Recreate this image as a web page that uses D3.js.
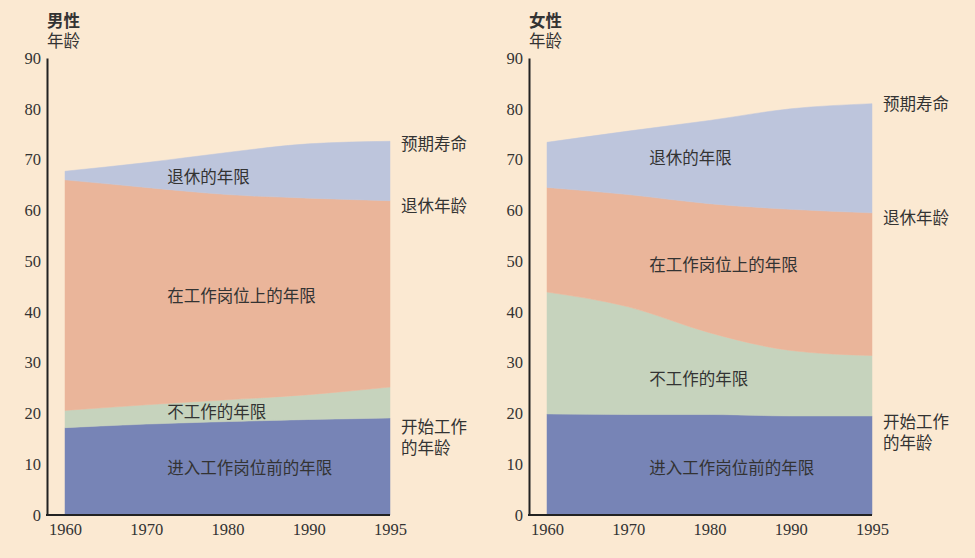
<!DOCTYPE html>
<html>
<head>
<meta charset="utf-8">
<script src="https://cdn.jsdelivr.net/npm/d3@7"></script>
<style>
  body { margin: 0; background: #fbe9d2; }
  svg { display: block; }
  text { font-family: 'Liberation Serif', 'Noto Sans CJK SC', serif; fill: #333; }
</style>
</head>
<body>
<div id="chart"></div>
<script>
const years = ['1960', '1970', '1980', '1990', '1995']

// boundaries (age in years)
const menStartWork = [17.2, 17.9, 18.4, 18.8, 19.1]
const menInactiveTop = [20.6, 21.7, 22.7, 23.7, 25.2]
const menRetireAge = [66.0, 64.5, 63.1, 62.4, 61.9]
const menLifeExp = [67.7, 69.4, 71.4, 73.1, 73.6]

const womenStartWork = [19.9, 19.8, 19.8, 19.5, 19.5]
const womenInactiveTop = [43.9, 41.0, 35.9, 32.4, 31.4]
const womenRetireAge = [64.5, 63.1, 61.3, 60.2, 59.5]
const womenLifeExp = [73.4, 75.6, 77.7, 80.0, 81.0]

const layerNames = ['进入工作岗位前的年限', '不工作的年限', '在工作岗位上的年限', '退休的年限']
const layerColors = ['#7784b6', '#c6d3bd', '#eab59a', '#bdc5dc']
const yTicks = [0, 10, 20, 30, 40, 50, 60, 70, 80, 90]

const width = 975
const height = 558

const svg = d3
  .select('#chart')
  .append('svg')
  .attr('width', width)
  .attr('height', height)

svg.append('rect').attr('width', width).attr('height', height).attr('fill', '#fbe9d2')

const y = d3.scaleLinear().domain([0, 90]).range([515, 58])
const x = d3.scalePoint().domain(years).range([65, 390])

const panels = [
  {
    title: '男性',
    dx: 0,
    bounds: [years.map(() => 0), menStartWork, menInactiveTop, menRetireAge, menLifeExp],
    layerAges: [9.2, 20.3, 43, 66.5],
    endLabels: [
      { lines: ['预期寿命'], age: 73.6, dy: 3 },
      { lines: ['退休年龄'], age: 61.9, dy: 6 },
      { lines: ['开始工作', '的年龄'], age: 19.1, dy: 9 }
    ]
  },
  {
    title: '女性',
    dx: 482,
    bounds: [years.map(() => 0), womenStartWork, womenInactiveTop, womenRetireAge, womenLifeExp],
    layerAges: [9.2, 26.8, 49.1, 70.2],
    endLabels: [
      { lines: ['预期寿命'], age: 81.0, dy: 1 },
      { lines: ['退休年龄'], age: 59.5, dy: 5 },
      { lines: ['开始工作', '的年龄'], age: 19.5, dy: 6 }
    ]
  }
]

panels.forEach(function(p) {
  const g = svg.append('g').attr('transform', `translate(${p.dx},0)`)

  const area = d3
    .area()
    .x((d, i) => x(years[i]))
    .y0(d => y(d[0]))
    .y1(d => y(d[1]))
    .curve(d3.curveMonotoneX)

  layerNames.forEach(function(name, k) {
    const rows = years.map((yr, i) => [p.bounds[k][i], p.bounds[k + 1][i]])
    g.append('path')
      .datum(rows)
      .attr('d', area)
      .attr('fill', layerColors[k])
      .attr('stroke', layerColors[k])
      .attr('stroke-width', 0.5)

    g.append('text')
      .text(name)
      .attr('x', x('1970') + 21)
      .attr('y', y(p.layerAges[k]))
      .attr('dy', '0.35em')
      .attr('font-size', 16.5)
  })

  // y axis
  const yAxis = g
    .append('g')
    .attr('transform', 'translate(47,0)')
    .call(
      d3
        .axisLeft(y)
        .tickValues(yTicks)
        .tickSize(0)
        .tickPadding(6)
    )
  yAxis.select('.domain').attr('stroke', '#222').attr('stroke-width', 2)
  yAxis.selectAll('text').attr('font-size', 16.5).style('fill', '#333')

  // x axis
  const xAxis = g
    .append('g')
    .attr('transform', `translate(0,${y(0)})`)
    .call(
      d3
        .axisBottom(x)
        .tickSize(0)
        .tickPadding(8)
    )
  xAxis.select('.domain').remove()
  xAxis.selectAll('text').attr('font-size', 16.5).style('fill', '#333')
  g.append('line')
    .attr('x1', 46)
    .attr('x2', x('1995'))
    .attr('y1', y(0))
    .attr('y2', y(0))
    .attr('stroke', '#222')
    .attr('stroke-width', 2)

  // titles
  g.append('text')
    .text(p.title)
    .attr('x', 47)
    .attr('y', 27)
    .attr('font-size', 16.5)
    .attr('font-weight', 'bold')
  g.append('text')
    .text('年龄')
    .attr('x', 47)
    .attr('y', 47)
    .attr('font-size', 16.5)

  // end labels
  p.endLabels.forEach(function(l) {
    l.lines.forEach(function(line, j) {
      g.append('text')
        .text(line)
        .attr('x', x('1995') + 11)
        .attr('y', y(l.age) + l.dy + j * 21)
        .attr('dy', '0.35em')
        .attr('font-size', 16.5)
    })
  })
})
</script>
</body>
</html>
